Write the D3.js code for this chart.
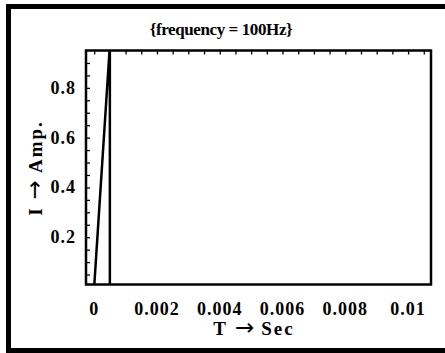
<!DOCTYPE html>
<html>
<head>
<meta charset="utf-8">
<script src="https://cdn.jsdelivr.net/npm/d3@7"></script>
<style>
  body { margin: 0; background: white; }
  text { font-family: "Liberation Serif", "Times New Roman", serif; font-weight: bold; fill: black; }
</style>
</head>
<body>
<div id="chart"></div>
<script>
// Current through the circuit.
var timeValues = [0, 0.0005, 0.0005, 0.0107];
var currentValues = [0, 0.97, 0, 0];

var xTickLabels = [0, 0.002, 0.004, 0.006, 0.008, 0.01];
var yTickLabels = [0.2, 0.4, 0.6, 0.8];
var titleText = "{frequency = 100Hz}";
var xAxisText = ["T", "\u2192", "Sec"];
var yAxisText = ["I", "\u2192", "Amp."];

var width = 445, height = 353;
var plot = {left: 86, top: 50.5, right: 431, bottom: 284.5};

/**
  * Creates the svg to draw on.
  */
function createGraph(elementId, w, h){
    return d3.select("#" + elementId)
        .append("svg")
        .attr("width", w)
        .attr("height", h)
        .style("display", "block")
        .style("background-color", "white");
}

/**
  * Writes an axis title as three pieces, with a long arrow in the middle.
  */
function arrowLabel(g, parts){
    var t = g.append("text")
        .attr("text-anchor", "middle")
        .style("font-size", "19px")
        .style("letter-spacing", "2px");
    t.append("tspan").text(parts[0]);
    t.append("tspan").attr("dx", 7)
        .style("font-family", "DejaVu Sans")
        .style("font-weight", "normal")
        .style("font-size", "23px")
        .style("letter-spacing", "0px")
        .text(parts[1]);
    t.append("tspan").attr("dx", 7).text(parts[2]);
    return t;
}

var svg = createGraph("chart", width, height);

var x = d3.scaleLinear().domain([-0.00026, 0.01073]).range([plot.left, plot.right]);
var y = d3.scaleLinear().domain([0.01, 0.95]).range([plot.bottom, plot.top]);

// outer border of the picture
svg.append("rect")
    .attr("x", 8.5).attr("y", 6.5)
    .attr("width", 460).attr("height", 344)
    .attr("fill", "none")
    .attr("stroke", "black")
    .attr("stroke-width", 5);

// clip for the curve
svg.append("clipPath").attr("id", "plotclip")
    .append("rect")
    .attr("x", plot.left).attr("y", plot.top)
    .attr("width", plot.right - plot.left)
    .attr("height", plot.bottom - plot.top);

var points = timeValues.map(function(t, i){ return [t, currentValues[i]]; });
var line = d3.line().x(function(d){ return x(d[0]); }).y(function(d){ return y(d[1]); });

svg.append("path")
    .attr("d", line(points))
    .attr("clip-path", "url(#plotclip)")
    .attr("fill", "none")
    .attr("stroke", "black")
    .attr("stroke-width", 2.5);

// top ticks, pointing inward
var topAxis = d3.axisTop(x)
    .tickValues(d3.range(0, 0.0106, 0.0005))
    .tickSizeInner(-4).tickSizeOuter(0).tickFormat("");
svg.append("g").attr("transform", "translate(0," + plot.top + ")").call(topAxis)
    .call(function(g){ g.select(".domain").remove(); })
    .selectAll("line").attr("stroke-width", 1.3);

// left ticks, pointing inward
var leftAxis = d3.axisLeft(y)
    .tickValues(d3.range(0.05, 0.926, 0.05))
    .tickSizeInner(-4).tickSizeOuter(0).tickFormat("");
svg.append("g").attr("transform", "translate(" + plot.left + ",0)").call(leftAxis)
    .call(function(g){ g.select(".domain").remove(); })
    .selectAll("line").attr("stroke-width", 1.3);

// frame
svg.append("rect")
    .attr("x", plot.left).attr("y", plot.top)
    .attr("width", plot.right - plot.left)
    .attr("height", plot.bottom - plot.top)
    .attr("fill", "none")
    .attr("stroke", "black")
    .attr("stroke-width", 2.5);

// tick labels
svg.selectAll(".xlabel").data(xTickLabels).enter().append("text")
    .attr("class", "xlabel")
    .attr("x", function(d){ return x(d); })
    .attr("y", 315)
    .attr("text-anchor", "middle")
    .style("font-size", "18px")
    .style("letter-spacing", "1px")
    .text(function(d){ return String(d); });

svg.selectAll(".ylabel").data(yTickLabels).enter().append("text")
    .attr("class", "ylabel")
    .attr("x", 76)
    .attr("y", function(d){ return y(d) + 6; })
    .attr("text-anchor", "end")
    .style("font-size", "18px")
    .style("letter-spacing", "1px")
    .text(function(d){ return String(d); });

// titles
svg.append("text")
    .attr("x", 221).attr("y", 35)
    .attr("text-anchor", "middle")
    .style("font-size", "17px")
    .style("letter-spacing", "-0.4px")
    .text(titleText);

arrowLabel(svg.append("g").attr("transform", "translate(254,335)"), xAxisText);
arrowLabel(svg.append("g").attr("transform", "translate(42,168) rotate(-90)"), yAxisText);
</script>
</body>
</html>
